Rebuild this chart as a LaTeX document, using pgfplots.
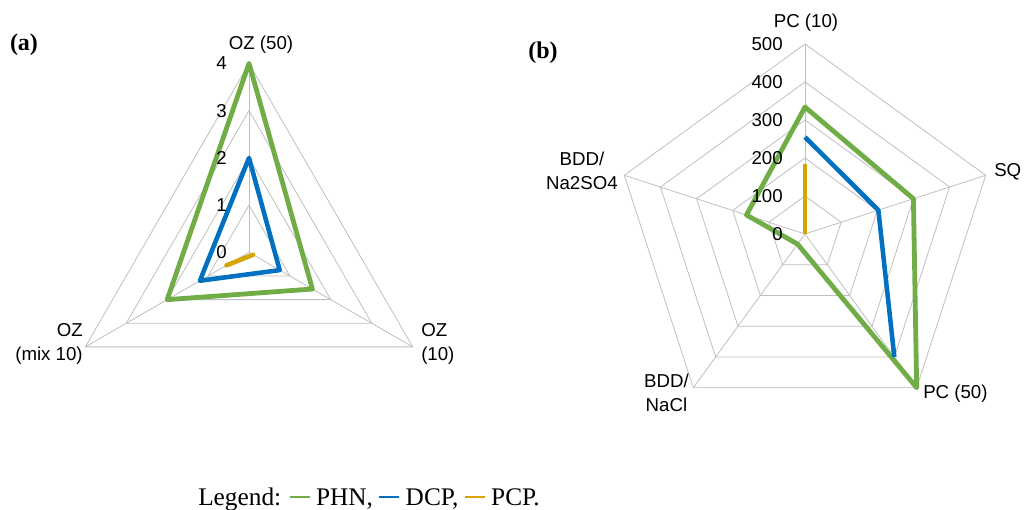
\documentclass[border=0pt]{standalone}
\usepackage{pgfplots}
\pgfplotsset{compat=1.18}
\usepgfplotslibrary{polar}
\usepackage{fontspec}
\setmainfont{Liberation Serif}
\newfontfamily\arial{Liberation Sans}
\definecolor{phn}{RGB}{112,173,71}
\definecolor{dcp}{RGB}{0,112,192}
\definecolor{pcp}{RGB}{214,166,0}
\definecolor{gridc}{RGB}{191,191,191}
\tikzset{catlab/.style={font=\arial\fontsize{14}{18}\selectfont, inner sep=0pt},
         ticklab/.style={font=\arial\fontsize{14}{18}\selectfont, anchor=east, xshift=-16.5pt, inner sep=0pt}}
\begin{document}
\begin{tikzpicture}
\useasboundingbox (0,0) rectangle (769.5pt,382.5pt);
% ---------------- (a) ----------------
\begin{polaraxis}[
  at={(186.75pt,193.2pt)}, anchor=center,
  width=283.5pt, height=283.5pt, scale only axis,
  hide axis, xmin=0, xmax=360, ymin=0, ymax=4, clip=false,
]
% polygon grid
\addplot[gridc, line width=0.6pt] coordinates {(90,1) (330,1) (210,1)} -- cycle;
\addplot[gridc, line width=0.6pt] coordinates {(90,2) (330,2) (210,2)} -- cycle;
\addplot[gridc, line width=0.6pt] coordinates {(90,3) (330,3) (210,3)} -- cycle;
\addplot[gridc, line width=0.6pt] coordinates {(90,4) (330,4) (210,4)} -- cycle;
\addplot[gridc, line width=0.6pt] coordinates {(90,0) (90,4)};
\addplot[gridc, line width=0.6pt] coordinates {(330,0) (330,4)};
\addplot[gridc, line width=0.6pt] coordinates {(210,0) (210,4)};
% data: OZ(50) at 90, OZ(10) at 330, OZ(mix 10) at 210
\addplot[phn, line width=3.6pt, line join=round] coordinates {(90,4) (330,1.55) (210,2.0)} -- cycle;
\addplot[dcp, line width=3.4pt, line join=round] coordinates {(90,2) (330,0.75) (210,1.2)} -- cycle;
\addplot[pcp, line width=3.4pt, line cap=round] coordinates {(330,0.1) (210,0.55)};
% radial tick labels
\node[ticklab] at (axis cs:90,0) {0};
\node[ticklab] at (axis cs:90,1) {1};
\node[ticklab] at (axis cs:90,2) {2};
\node[ticklab] at (axis cs:90,3) {3};
\node[ticklab] at (axis cs:90,4) {4};
\end{polaraxis}
\node[catlab] at (195.75pt,348.75pt) {OZ (50)};
\node[catlab, anchor=east, align=right] at (62.25pt,124.5pt) {OZ\\(mix 10)};
\node[catlab, anchor=west, align=left] at (315.75pt,124.5pt) {OZ\\(10)};
\node[font=\bfseries\fontsize{18}{20}\selectfont, inner sep=0pt] at (18pt,348.75pt) {(a)};
% ---------------- (b) ----------------
\begin{polaraxis}[
  at={(603.75pt,207pt)}, anchor=center,
  width=285pt, height=285pt, scale only axis,
  hide axis, xmin=0, xmax=360, ymin=0, ymax=500, clip=false,
]
\addplot[gridc, line width=0.6pt] coordinates {(90,100) (18,100) (306,100) (234,100) (162,100)} -- cycle;
\addplot[gridc, line width=0.6pt] coordinates {(90,200) (18,200) (306,200) (234,200) (162,200)} -- cycle;
\addplot[gridc, line width=0.6pt] coordinates {(90,300) (18,300) (306,300) (234,300) (162,300)} -- cycle;
\addplot[gridc, line width=0.6pt] coordinates {(90,400) (18,400) (306,400) (234,400) (162,400)} -- cycle;
\addplot[gridc, line width=0.6pt] coordinates {(90,500) (18,500) (306,500) (234,500) (162,500)} -- cycle;
\addplot[gridc, line width=0.6pt] coordinates {(90,0) (90,500)};
\addplot[gridc, line width=0.6pt] coordinates {(18,0) (18,500)};
\addplot[gridc, line width=0.6pt] coordinates {(306,0) (306,500)};
\addplot[gridc, line width=0.6pt] coordinates {(234,0) (234,500)};
\addplot[gridc, line width=0.6pt] coordinates {(162,0) (162,500)};
% data: PC(10) 90, SQ 18, PC(50) 306, BDD/NaCl 234, BDD/Na2SO4 162
\addplot[phn, line width=3.6pt, line join=round] coordinates {(90,334) (18,300) (306,500) (234,33) (162,162)} -- cycle;
\addplot[dcp, line width=3.4pt, line join=round] coordinates {(90,255) (18,203) (306,400)};
\addplot[pcp, line width=3.4pt] coordinates {(90,184) (18,0)};
\node[ticklab] at (axis cs:90,0) {0};
\node[ticklab] at (axis cs:90,100) {100};
\node[ticklab] at (axis cs:90,200) {200};
\node[ticklab] at (axis cs:90,300) {300};
\node[ticklab] at (axis cs:90,400) {400};
\node[ticklab] at (axis cs:90,500) {500};
\end{polaraxis}
\node[catlab] at (604.5pt,365.25pt) {PC (10)};
\node[catlab, anchor=west] at (745.5pt,253.5pt) {SQ};
\node[catlab, anchor=west] at (692.25pt,87pt) {PC (50)};
\node[catlab, anchor=east, align=center] at (516.75pt,87.75pt) {BDD/\\NaCl};
\node[catlab, anchor=east, align=center] at (463.5pt,254.25pt) {BDD/\\Na2SO4};
\node[font=\bfseries\fontsize{18}{20}\selectfont, inner sep=0pt] at (407.25pt,342.75pt) {(b)};
% ---------------- legend ----------------
\node[anchor=base west, inner sep=0pt, font=\fontsize{19}{22}\selectfont] at (148.5pt,3pt)
  {Legend: \textcolor{phn}{\rule[0.3em]{15pt}{1.6pt}} PHN, \textcolor{dcp}{\rule[0.3em]{15pt}{1.6pt}} DCP, \textcolor{pcp}{\rule[0.3em]{15pt}{1.6pt}} PCP.};
\end{tikzpicture}
\end{document}
